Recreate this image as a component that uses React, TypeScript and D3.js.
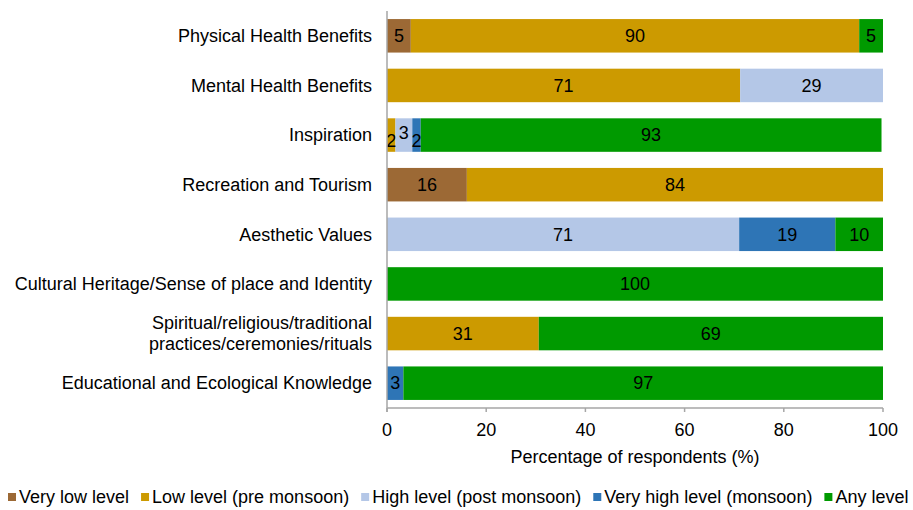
import React, { useEffect, useRef } from 'react';
import * as d3 from 'd3';

// categories, top to bottom
const categories = [
  'Physical Health Benefits',
  'Mental Health Benefits',
  'Inspiration',
  'Recreation and Tourism',
  'Aesthetic Values',
  'Cultural Heritage/Sense of place and Identity',
  'Spiritual/religious/traditional\npractices/ceremonies/rituals',
  'Educational and Ecological Knowledge',
];

const seriesNames = [
  'Very low level',
  'Low level (pre monsoon)',
  'High level (post monsoon)',
  'Very high level (monsoon)',
  'Any level',
];

// percentage of respondents per series, one value per category
const veryLow = [4.8, 0, 0, 16.1, 0, 0, 0, 0];
const lowPre = [90.4, 71.2, 1.7, 83.9, 0, 0, 30.6, 0];
const highPost = [0, 28.8, 3.4, 0, 71.0, 0, 0, 0];
const veryHighMonsoon = [0, 0, 1.7, 0, 19.4, 0, 0, 3.3];
const anyLevel = [4.8, 0, 92.9, 0, 9.6, 100, 69.4, 96.7];

const xTicks = [0, 20, 40, 60, 80, 100];

const colors = ['#9C6935', '#CC9A00', '#B4C7E7', '#2E75B6', '#009A00'];

export default function App() {
  const ref = useRef<SVGSVGElement>(null);

  useEffect(() => {
    const svg = d3.select(ref.current);
    svg.selectAll('*').remove();

    const font = 'Liberation Sans, Arial, sans-serif';
    const fs = 18;
    const left = 387, right = 883, top = 11, bottom = 408;

    const x = d3.scaleLinear().domain([0, 100]).range([left, right]);
    const y = d3.scaleBand().domain(categories).range([top, bottom]).paddingInner(0.325).paddingOuter(0.1625);

    const rows = categories.map((c, i) => ({
      cat: c,
      v0: veryLow[i], v1: lowPre[i], v2: highPost[i], v3: veryHighMonsoon[i], v4: anyLevel[i],
    }));
    const stack = d3.stack<any>().keys(['v0', 'v1', 'v2', 'v3', 'v4']);
    const layers = stack(rows);

    const g = svg.append('g');
    layers.forEach((layer, k) => {
      layer.forEach((d) => {
        const w = x(d[1]) - x(d[0]);
        if (w <= 0) return;
        g.append('rect')
          .attr('x', x(d[0]))
          .attr('y', y(d.data.cat)!)
          .attr('width', w)
          .attr('height', y.bandwidth())
          .attr('fill', colors[k]);
      });
    });

    // how many tiny segments each row has (crowded labels get nudged like excel)
    const tinyCount = rows.map((r) => [r.v0, r.v1, r.v2, r.v3, r.v4].filter((v) => v > 0 && v < 4).length);

    // value labels
    layers.forEach((layer, k) => {
      layer.forEach((d, i) => {
        const v = d[1] - d[0];
        if (v <= 0) return;
        let off = 0;
        if (v < 4 && tinyCount[i] > 1) off = k === 2 ? -2 : 6;
        g.append('text')
          .attr('x', (x(d[0]) + x(d[1])) / 2)
          .attr('y', y(d.data.cat)! + y.bandwidth() / 2 + off)
          .attr('dy', '0.35em')
          .attr('text-anchor', 'middle')
          .attr('font-family', font)
          .attr('font-size', fs)
          .attr('fill', '#000')
          .text(Math.round(v));
      });
    });

    // axes lines
    svg.append('line')
      .attr('x1', left).attr('x2', left).attr('y1', top).attr('y2', bottom + 4)
      .attr('stroke', '#A6A6A6').attr('stroke-width', 1.5);
    svg.append('line')
      .attr('x1', left).attr('x2', right).attr('y1', bottom).attr('y2', bottom)
      .attr('stroke', '#A6A6A6').attr('stroke-width', 1.5);
    xTicks.forEach((t) => {
      svg.append('line')
        .attr('x1', x(t)).attr('x2', x(t)).attr('y1', bottom).attr('y2', bottom + 4)
        .attr('stroke', '#A6A6A6').attr('stroke-width', 1.5);
      svg.append('text')
        .attr('x', x(t)).attr('y', 430).attr('dy', '0.35em')
        .attr('text-anchor', 'middle')
        .attr('font-family', font).attr('font-size', fs).attr('fill', '#000')
        .text(t);
    });

    // category labels
    categories.forEach((c) => {
      const lines = c.split('\n');
      const cy = y(c)! + y.bandwidth() / 2;
      lines.forEach((ln, j) => {
        svg.append('text')
          .attr('x', 372)
          .attr('y', cy + (j - (lines.length - 1) / 2) * 21)
          .attr('dy', '0.35em')
          .attr('text-anchor', 'end')
          .attr('font-family', font).attr('font-size', fs).attr('fill', '#000')
          .text(ln);
      });
    });

    svg.append('text')
      .attr('x', (left + right) / 2).attr('y', 457).attr('dy', '0.35em')
      .attr('text-anchor', 'middle')
      .attr('font-family', font).attr('font-size', fs).attr('fill', '#000')
      .text('Percentage of respondents (%)');

    // legend
    let lx = 8;
    seriesNames.forEach((s, k) => {
      svg.append('rect')
        .attr('x', lx).attr('y', 493).attr('width', 8).attr('height', 8)
        .attr('fill', colors[k]);
      const t = svg.append('text')
        .attr('x', lx + 11).attr('y', 497).attr('dy', '0.35em')
        .attr('font-family', font).attr('font-size', fs).attr('fill', '#000')
        .text(s);
      const len = (t.node() as SVGTextElement).getComputedTextLength();
      lx += 11 + len + 12;
    });
  }, []);

  return (
    <svg ref={ref} width={913} height={510}
      style={{ position: 'absolute', left: 0, top: 0, background: '#fff' }} />
  );
}
